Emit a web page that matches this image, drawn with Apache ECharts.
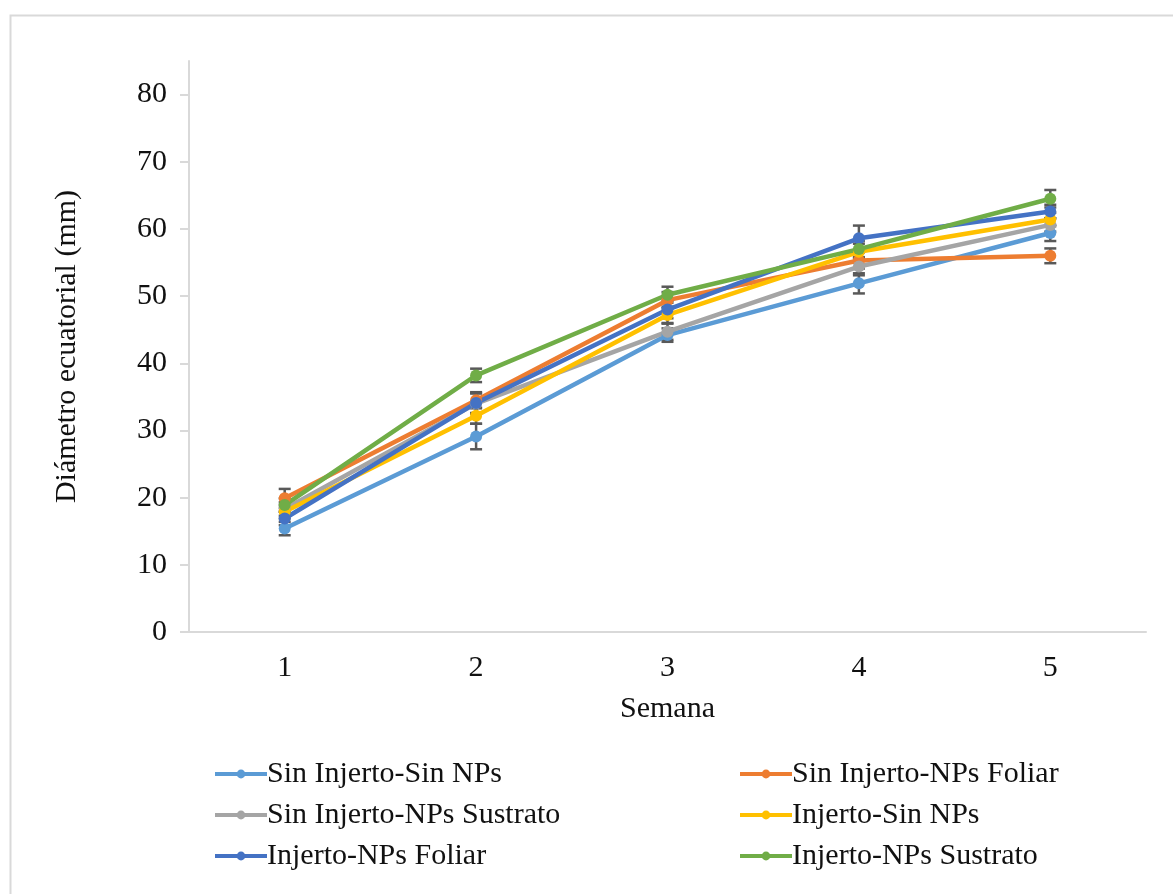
<!DOCTYPE html>
<html>
<head>
<meta charset="utf-8">
<script src="https://cdn.jsdelivr.net/npm/echarts@6/dist/echarts.min.js"></script>
<style>
  html, body { margin: 0; padding: 0; background: #fff; }
  #chart { width: 1173px; height: 894px; }
</style>
</head>
<body>
<div id="chart"></div>
<script>
// semanas
const weeks = ['1', '2', '3', '4', '5']
const yTicks = [0, 10, 20, 30, 40, 50, 60, 70, 80]

const seriesNames = [
  'Sin Injerto-Sin NPs',
  'Sin Injerto-NPs Foliar',
  'Sin Injerto-NPs Sustrato',
  'Injerto-Sin NPs',
  'Injerto-NPs Foliar',
  'Injerto-NPs Sustrato'
]
const colors = ['#5B9BD5', '#ED7D31', '#A5A5A5', '#FFC000', '#4472C4', '#70AD47']

// medias (mm)
const sinInjertoSinNPs = [15.4, 29.1, 44.2, 51.9, 59.4]
const sinInjertoFoliar = [19.9, 34.5, 49.4, 55.3, 56.0]
const sinInjertoSustrato = [18.3, 34.0, 44.7, 54.4, 60.6]
const injertoSinNPs = [17.9, 32.2, 47.2, 56.6, 61.4]
const injertoFoliar = [16.9, 34.1, 48.0, 58.6, 62.6]
const injertoSustrato = [18.9, 38.2, 50.2, 57.0, 64.5]

// error estandar
const errSinInjertoSinNPs = [1.0, 1.9, 1.0, 1.5, 1.2]
const errSinInjertoFoliar = [1.4, 1.2, 1.2, 1.2, 1.1]
const errSinInjertoSustrato = [1.0, 1.5, 1.2, 1.3, 1.0]
const errInjertoSinNPs = [1.0, 1.2, 1.2, 1.2, 1.0]
const errInjertoFoliar = [1.0, 1.5, 1.3, 1.9, 1.0]
const errInjertoSustrato = [1.0, 1.0, 1.2, 1.2, 1.3]

const means = [sinInjertoSinNPs, sinInjertoFoliar, sinInjertoSustrato, injertoSinNPs, injertoFoliar, injertoSustrato]
const errs = [errSinInjertoSinNPs, errSinInjertoFoliar, errSinInjertoSustrato, errInjertoSinNPs, errInjertoFoliar, errInjertoSustrato]

const font = '"Liberation Serif", "Times New Roman", serif'
const txt = '#111'
const fs = 30

const lineSeries = means.map((vals, i) => ({
  name: seriesNames[i],
  type: 'line',
  data: vals,
  symbol: 'circle',
  symbolSize: 12,
  z: 3,
  lineStyle: { width: 4.5, color: colors[i] },
  itemStyle: { color: colors[i] }
}))

const errorSeries = means.map((vals, i) => ({
  type: 'custom',
  name: seriesNames[i] + '-err',
  z: 2,
  silent: true,
  data: vals.map((v, j) => [j, v - errs[i][j], v + errs[i][j]]),
  encode: { x: 0, y: [1, 2] },
  renderItem: (params, api) => {
    const lo = api.coord([api.value(0), api.value(1)])
    const hi = api.coord([api.value(0), api.value(2)])
    const w = 6
    const style = { stroke: '#595959', lineWidth: 2.5 }
    return {
      type: 'group',
      children: [
        { type: 'line', shape: { x1: lo[0], y1: lo[1], x2: hi[0], y2: hi[1] }, style },
        { type: 'line', shape: { x1: lo[0] - w, y1: lo[1], x2: lo[0] + w, y2: lo[1] }, style },
        { type: 'line', shape: { x1: hi[0] - w, y1: hi[1], x2: hi[0] + w, y2: hi[1] }, style }
      ]
    }
  }
}))

const legendBase = {
  orient: 'vertical',
  top: 754,
  itemWidth: 52,
  itemHeight: 11,
  itemGap: 11,
  lineStyle: { width: 4 },
  textStyle: { fontFamily: font, fontSize: fs, color: txt, padding: [0, 0, 0, -5] }
}

const option = {
  animation: false,
  backgroundColor: '#fff',
  color: colors,
  graphic: [{
    type: 'rect',
    left: 8, top: 13,
    shape: { width: 1200, height: 920 },
    style: { fill: 'none', stroke: '#d9d9d9', lineWidth: 2 },
    silent: true
  }],
  legend: [
    Object.assign({}, legendBase, { left: 208, data: [seriesNames[0], seriesNames[2], seriesNames[4]] }),
    Object.assign({}, legendBase, { left: 733, data: [seriesNames[1], seriesNames[3], seriesNames[5]] })
  ],
  grid: { left: 189, right: 27, top: 61, bottom: 262, containLabel: false },
  xAxis: {
    type: 'category',
    data: weeks,
    boundaryGap: true,
    name: 'Semana',
    nameLocation: 'middle',
    nameGap: 62,
    nameTextStyle: { fontFamily: font, fontSize: fs, color: txt },
    axisLine: { lineStyle: { color: '#d9d9d9', width: 2 } },
    axisTick: { show: false },
    axisLabel: { fontFamily: font, fontSize: fs, color: txt, margin: 21 },
    splitLine: { show: false }
  },
  yAxis: {
    type: 'value',
    min: 0,
    max: 85,
    interval: 10,
    name: 'Diámetro ecuatorial (mm)',
    nameLocation: 'middle',
    nameGap: 107,
    nameTextStyle: { fontFamily: font, fontSize: fs, color: txt },
    axisLine: { show: true, lineStyle: { color: '#d9d9d9', width: 2 } },
    axisTick: { show: true, inside: false, length: 9, customValues: yTicks, lineStyle: { color: '#d9d9d9', width: 2 } },
    axisLabel: { fontFamily: font, fontSize: fs, color: txt, margin: 22, customValues: yTicks },
    splitLine: { show: false }
  },
  series: errorSeries.concat(lineSeries)
}

const myChart = echarts.init(document.getElementById('chart'), null, { renderer: 'canvas' })
myChart.setOption(option)
</script>
</body>
</html>
